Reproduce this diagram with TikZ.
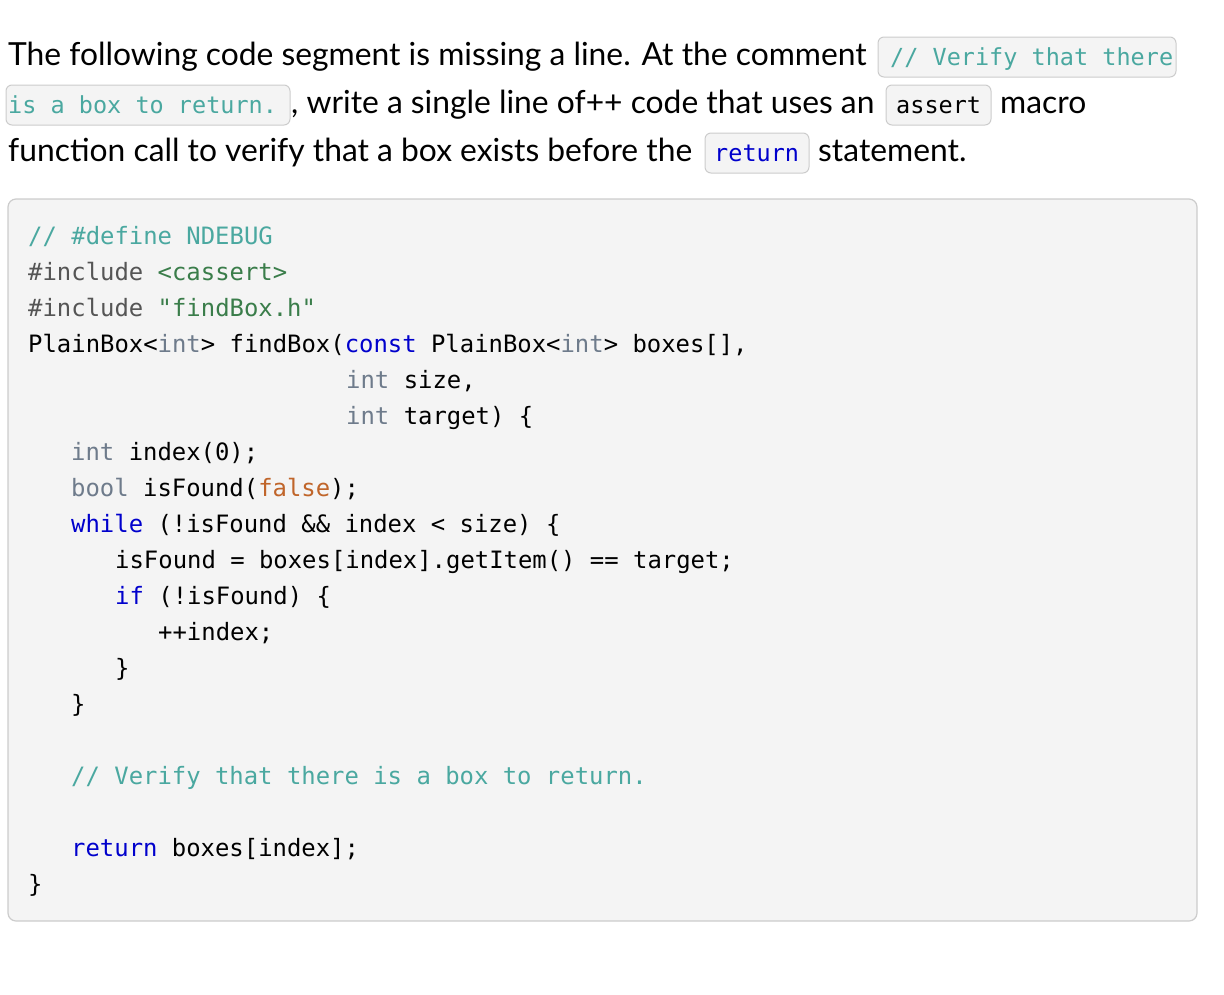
\documentclass[tikz,border=0pt]{standalone}
\usepackage{fontspec}
\setmainfont{Lato}
\setmonofont{DejaVu Sans Mono}
\definecolor{cmt}{HTML}{4AA8A0}
\definecolor{kw}{HTML}{0000CC}
\definecolor{ty}{HTML}{6E7B8B}
\definecolor{str}{HTML}{3A7D4A}
\definecolor{lit}{HTML}{C0652A}
\definecolor{pp}{HTML}{555555}
\definecolor{boxfill}{HTML}{F4F4F4}
\definecolor{boxline}{HTML}{CCCCCC}
\begin{document}
\begin{tikzpicture}[x=1pt,y=1pt,
  txt/.style={anchor=base west,inner sep=0pt,font=\fontsize{31.8}{38}\selectfont},
  code/.style={anchor=base west,inner sep=0pt,font=\fontsize{23.9}{30}\selectfont\ttfamily},
  chip/.style={draw=boxline,fill=boxfill,rounded corners=6pt,line width=1pt},
  chiptxt/.style={anchor=base west,inner sep=0pt,font=\fontsize{23.5}{30}\selectfont\ttfamily}]
\useasboundingbox (0,0) rectangle (1224,-994);
% paragraph
\node[txt] (p1) at (8,-65) {The following code segment is missing a line. At the comment};
\draw[chip] (878,-37) rectangle (1176,-77);
\node[chiptxt,text=cmt] (c1) at (890,-65) {// Verify that there};
\draw[chip] (6,-85) rectangle (290,-125);
\node[chiptxt,text=cmt] (c2) at (8,-113) {is a box to return.};
\node[txt] (p2) at (291,-113) {, write a single line of++ code that uses an};
\draw[chip] (886,-85) rectangle (991,-125);
\node[chiptxt] (c3) at (896,-113) {assert};
\node[txt] (p3) at (1000,-113) {macro};
\node[txt] (p4) at (8,-161) {function call to verify that a box exists before the};
\draw[chip] (705,-133) rectangle (809,-173);
\node[chiptxt,text=kw] (c4) at (714,-161) {return};
\node[txt] (p5) at (818,-161) {statement.};
% code box
\draw[draw=boxline,fill=boxfill,rounded corners=8pt,line width=1.2pt] (8,-199) rectangle (1197,-921);
\node[code,text=cmt] (l1) at (28,-244) {// \#define NDEBUG};
\node[code] (l2) at (28,-280) {\textcolor{pp}{\#include} \textcolor{str}{<cassert>}};
\node[code] (l3) at (28,-316) {\textcolor{pp}{\#include} \textcolor{str}{"findBox.h"}};
\node[code] (l4) at (28,-352) {PlainBox<\textcolor{ty}{int}> findBox(\textcolor{kw}{const} PlainBox<\textcolor{ty}{int}> boxes[],};
\node[code] (l5) at (346,-388) {\textcolor{ty}{int} size,};
\node[code] (l6) at (346,-424) {\textcolor{ty}{int} target) \{};
\node[code] (l7) at (71,-460) {\textcolor{ty}{int} index(0);};
\node[code] (l8) at (71,-496) {\textcolor{ty}{bool} isFound(\textcolor{lit}{false});};
\node[code] (l9) at (71,-532) {\textcolor{kw}{while} (!isFound \&\& index < size) \{};
\node[code] (l10) at (115,-568) {isFound = boxes[index].getItem() == target;};
\node[code] (l11) at (115,-604) {\textcolor{kw}{if} (!isFound) \{};
\node[code] (l12) at (158,-640) {++index;};
\node[code] (l13) at (115,-676) {\}};
\node[code] (l14) at (71,-712) {\}};
\node[code,text=cmt] (l15) at (71,-784) {// Verify that there is a box to return.};
\node[code] (l16) at (71,-856) {\textcolor{kw}{return} boxes[index];};
\node[code] (l17) at (28,-892) {\}};
\end{tikzpicture}
\end{document}
